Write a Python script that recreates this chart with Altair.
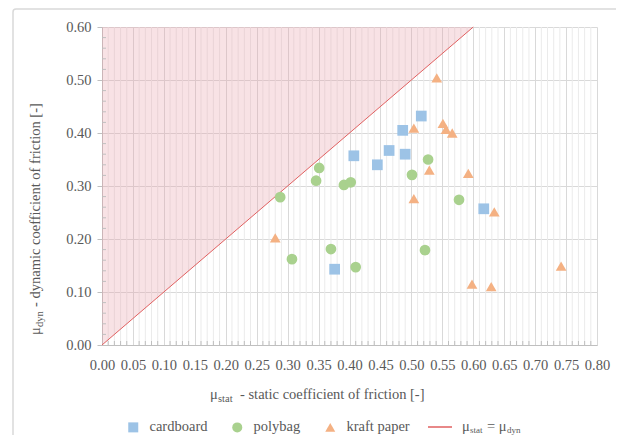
import altair as alt
import pandas as pd

# ---- data ----
cardboard_x = [0.376, 0.407, 0.445, 0.464, 0.486, 0.490, 0.516, 0.617]
cardboard_y = [0.143, 0.357, 0.340, 0.367, 0.405, 0.360, 0.432, 0.257]

polybag_x = [0.288, 0.307, 0.346, 0.351, 0.370, 0.391, 0.402, 0.410, 0.501, 0.522, 0.527, 0.577]
polybag_y = [0.279, 0.162, 0.310, 0.334, 0.181, 0.302, 0.307, 0.147, 0.321, 0.179, 0.350, 0.274]

kraft_x = [0.280, 0.504, 0.504, 0.529, 0.541, 0.551, 0.556, 0.566, 0.592, 0.598, 0.629, 0.634, 0.742]
kraft_y = [0.202, 0.409, 0.276, 0.330, 0.504, 0.418, 0.407, 0.400, 0.324, 0.115, 0.110, 0.251, 0.149]

series_names = ["cardboard", "polybag", "kraft paper"]
series_colors = ["#9dc3e6", "#a9d18e", "#f4b183"]
series_shapes = ["square", "circle", "triangle-up"]

x_ticks = [round(i * 0.05, 2) for i in range(17)]
y_ticks = [round(i * 0.1, 1) for i in range(7)]
x_minor = [round(i * 0.01, 2) for i in range(81) if i % 5 != 0]
y_minor = [round(i * 0.02, 2) for i in range(31) if i % 5 != 0]

diag_x = [0.0, 0.6]
diag_y = [0.0, 0.6]

W, H = 495, 318
FONT = "Liberation Serif"
TXT = "#595959"

points = pd.DataFrame({
    "x": cardboard_x + polybag_x + kraft_x,
    "y": cardboard_y + polybag_y + kraft_y,
    "material": ["cardboard"] * len(cardboard_x) + ["polybag"] * len(polybag_x) + ["kraft paper"] * len(kraft_x),
})

xs = alt.Scale(domain=[0, 0.8], nice=False, zero=False)
ys = alt.Scale(domain=[0, 0.6], nice=False, zero=False)

xaxis = alt.Axis(values=x_ticks, format=".2f", title=None, grid=True, gridColor="#d9d9d9",
                 ticks=False, labelPadding=13, labelFont=FONT, labelFontSize=14.5, labelColor=TXT,
                 domainColor="#bfbfbf", labelFlush=False)
yaxis = alt.Axis(values=y_ticks, format=".2f", title=None, grid=True, gridColor="#d9d9d9",
                 ticks=True, tickSize=5, tickColor="#bfbfbf", labelPadding=6, labelFont=FONT,
                 labelFontSize=14.5, labelColor=TXT, domainColor="#bfbfbf", labelFlush=False)

one = pd.DataFrame({"a": [0]})

frame = alt.Chart(one).mark_rect(fill="transparent", stroke="#d9d9d9", strokeWidth=1.5, cornerRadius=3).encode(
    x=alt.value(-89), x2=alt.value(540), y=alt.value(-18), y2=alt.value(440))

minor_grid = alt.Chart(pd.DataFrame({"x": x_minor})).mark_rule(color="#ebebeb", strokeWidth=1).encode(
    x=alt.X("x:Q", scale=xs, axis=xaxis), y=alt.value(0), y2=alt.value(H))

area = alt.Chart(pd.DataFrame({"x": diag_x, "y": diag_y, "top": [0.6, 0.6]})).mark_area(
    color="#e8a0a8", opacity=0.3).encode(
    x=alt.X("x:Q", scale=xs, axis=xaxis), y=alt.Y("y:Q", scale=ys, axis=yaxis), y2="top:Q")

diag = alt.Chart(pd.DataFrame({"x": diag_x, "y": diag_y})).mark_line(color="#e06060", strokeWidth=1).encode(
    x=alt.X("x:Q", scale=xs, axis=xaxis), y=alt.Y("y:Q", scale=ys, axis=yaxis))

xminor_ticks = alt.Chart(pd.DataFrame({"x": x_minor})).mark_rule(color="#bfbfbf").encode(
    x=alt.X("x:Q", scale=xs, axis=xaxis), y=alt.value(H), y2=alt.value(H - 4))
yminor_ticks = alt.Chart(pd.DataFrame({"y": y_minor})).mark_rule(color="#bfbfbf").encode(
    y=alt.Y("y:Q", scale=ys, axis=yaxis), x=alt.value(0), x2=alt.value(4))

pts = alt.Chart(points).mark_point(filled=True, opacity=1, size=115).encode(
    x=alt.X("x:Q", scale=xs, axis=xaxis),
    y=alt.Y("y:Q", scale=ys, axis=yaxis),
    color=alt.Color("material:N", scale=alt.Scale(domain=series_names, range=series_colors),
                    sort=series_names,
                    legend=alt.Legend(title=None, orient="none", legendX=24, legendY=393,
                                      direction="horizontal", labelFont=FONT, labelFontSize=14.5,
                                      labelColor=TXT, symbolSize=100, labelOffset=9,
                                      columnPadding=22, padding=0, symbolStrokeWidth=0,
                                      symbolOpacity=1)),
    shape=alt.Shape("material:N", scale=alt.Scale(domain=series_names, range=series_shapes),
                    sort=series_names, legend=None),
)


def txt(s, x, y, size=14.5, angle=0, baseline="middle"):
    kw = dict(align="left", baseline=baseline, font=FONT, fontSize=size, color=TXT)
    if angle:
        kw["angle"] = angle
    return alt.Chart(one).mark_text(**kw).encode(x=alt.value(x), y=alt.value(y), text=alt.value(s))


# x-axis title
xt = [txt("μ", 108, 368), txt("stat", 116, 372, size=10.5), txt("- static coefficient of friction  [-]", 138, 368)]
# y-axis title (rotated)
yt = [txt("μ", -66, 308, angle=270), txt("dyn", -62, 300, size=10.5, angle=270),
      txt("- dynamic coefficient of friction  [-]", -66, 280, angle=270)]
# legend entry for the identity line
leg_line = alt.Chart(one).mark_rule(color="#e06060", strokeWidth=1.5).encode(
    x=alt.value(326), x2=alt.value(350), y=alt.value(400))
lt = [txt("μ", 360, 400), txt("stat", 368, 403, size=9), txt("= μ", 385, 400), txt("dyn", 405, 403, size=9)]

chart = alt.layer(
    frame, minor_grid, area, diag, xminor_ticks, yminor_ticks, pts, leg_line, *xt, *yt, *lt
).properties(
    width=W, height=H,
    autosize=alt.AutoSizeParams(type="none"),
    padding={"left": 94, "top": 19, "right": 19, "bottom": 90},
).configure_view(stroke=None).configure_axis(zindex=0).configure_legend(labelFont=FONT)

chart.save("out.html", embed_options={"renderer": "svg", "actions": False})
